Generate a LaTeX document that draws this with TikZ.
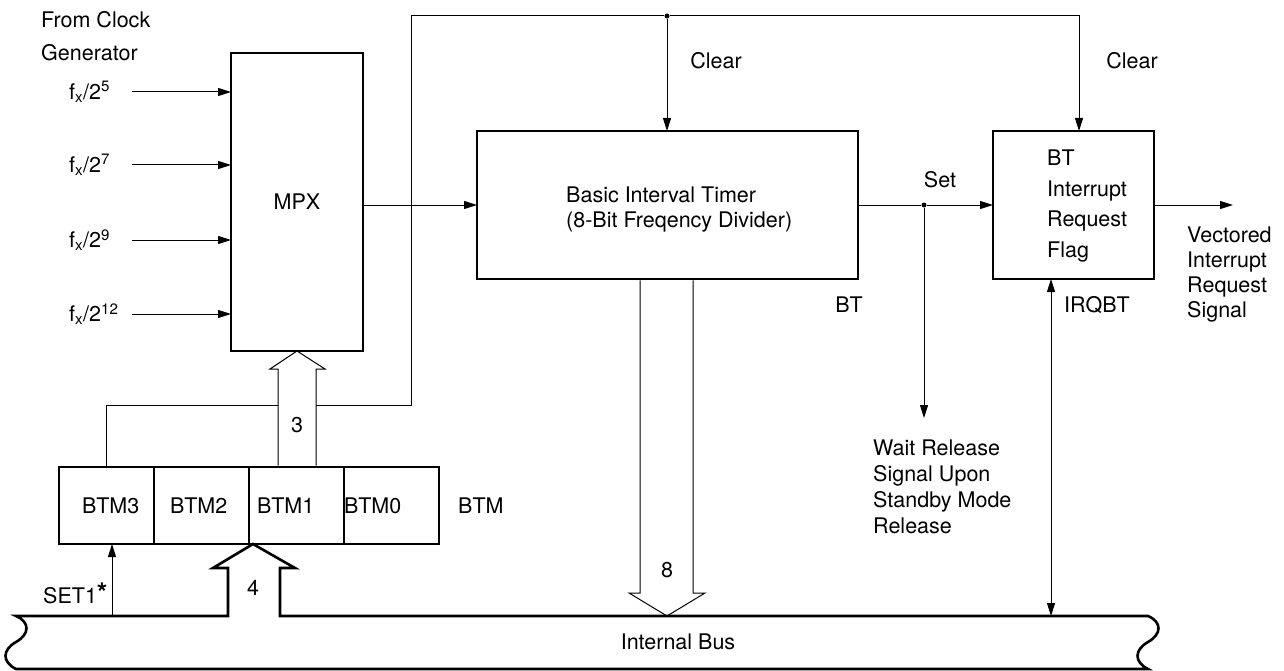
\documentclass[tikz,border=0pt]{standalone}
\usepackage{fontspec}
\usepackage{amsmath}
\setmainfont{TeX Gyre Heros}
\usetikzlibrary{arrows.meta, positioning}

\begin{document}
\begin{tikzpicture}[
  x=1pt, y=-1pt,
  every node/.style={font=\fontsize{21.5}{25}\selectfont},
  blk/.style={rectangle, draw, line width=2.6pt, outer sep=0pt, inner sep=0pt},
  cell/.style={blk, minimum height=77pt, text width=95pt, align=left},
  lbl/.style={inner sep=0pt, align=left},
  arr/.style={-{Triangle[length=13pt, width=8pt]}, line width=1pt},
  dblarr/.style={{Triangle[length=13pt, width=8pt]}-{Triangle[length=13pt, width=8pt]}, line width=1pt},
  wire/.style={line width=1pt},
  busarr/.style={line width=1pt, fill=white, line join=miter},
  bus/.style={line width=2.6pt, line join=miter},
  dot/.style={circle, fill, inner sep=0pt, minimum size=5pt},
]
\useasboundingbox (0,0) rectangle (1284,671);

%% Multiplexer
\node[blk, minimum width=132pt, minimum height=298pt] (mpx) at (297,202) {MPX};

%% Basic interval timer
\node[blk, minimum width=381pt, minimum height=148pt, right=114pt of mpx, yshift=-3pt] (bit) {};
\node[lbl, anchor=west] (bittext) at ([xshift=-101.5pt, yshift=-5pt]bit.center) {Basic Interval Timer\\(8-Bit Freqency Divider)};

%% Interrupt request flag
\node[blk, minimum width=161pt, minimum height=148pt, right=135pt of bit] (flag) {};
\node[lbl, anchor=west, font=\fontsize{21.5}{30.7}\selectfont] (flagtext) at ([xshift=-26.5pt, yshift=-1pt]flag.center) {BT\\Interrupt\\Request\\Flag};

%% Mode register
\node[cell] (btm3) at (106.5,505.5) {\hspace*{23pt}BTM3};
\node[cell, right=0pt of btm3] (btm2) {\hspace*{16pt}BTM2};
\node[cell, right=0pt of btm2] (btm1) {\hspace*{8pt}BTM1};
\node[cell, right=0pt of btm1] (btm0) {BTM0};
\node[lbl, right=19pt of btm0] (btmlbl) {BTM};

%% Clock inputs
\node[lbl, anchor=west, font=\fontsize{21.5}{33}\selectfont] (clock) at (41,36.5) {From Clock\\Generator};
\foreach \e/\y in {5/92, 7/165, 9/240, 12/314}{
  \node[lbl, anchor=west] (f\e) at (69,\y) {f$_\text{x}$/2$^\text{\e}$};
  \coordinate (in\e) at (132,\y);
  \draw[arr] (in\e) -- (in\e -| mpx.west);
}

%% Junctions and free ends
\node[dot] (clrdot) at (667,16) {};
\node[dot] (setdot) at (924,205) {};
\coordinate (fbk) at (411,405);
\coordinate (waitend) at (924,418);
\coordinate (vecend) at (1233,205);
\coordinate (set1) at (112,616);
\coordinate (irq) at (1051,616);

%% Signals
\draw[wire] (btm3.north) |- (fbk) |- (clrdot);
\draw[arr] (clrdot) -| ([xshift=5.5pt]flag.north);
\draw[arr] (clrdot) -- (clrdot |- bit.north);
\draw[arr] (mpx.east |- bit.west) -- (bit.west);
\draw[wire] (bit.east) -- (setdot);
\draw[arr] (setdot) -- (flag.west);
\draw[arr] (setdot) -- (waitend);
\draw[arr] (flag.east) -- (vecend);
\draw[dblarr] (irq |- flag.south) -- (irq);
\draw[arr] (set1) -- (set1 |- btm3.south);

%% Wide arrows
\draw[busarr] (278,465.7) -- (278,369) -- (270,369) -- (mpx.south) -- (325,369) -- (316,369) -- (316,465.7);
\draw[busarr] (640,280.3) -- (640,593) -- (629,593) -- (667,616) -- (705,593) -- (693,593) -- (693,280.3);

%% Internal bus
\draw[bus] (16,616) -- (228,616) -- (228,568) -- (213,568) -- (253,544) -- (295,568) -- (280,568) -- (280,616) -- (1148,616)
  .. controls (1162,622) and (1162,634) .. (1148,642) .. controls (1134,650) and (1134,662) .. (1148,669) -- (16,669)
  .. controls (2,662) and (2,650) .. (16,642) .. controls (30,634) and (30,622) .. (16,616) -- cycle;

%% Labels
\node[lbl] (clear1) at (716,61) {Clear};
\node[lbl] (clear2) at (1132,61) {Clear};
\node[lbl] (setlbl) at (940,180) {Set};
\node[lbl] (btlbl) at (849,305) {BT};
\node[lbl] (irqlbl) at (1097,305) {IRQBT};
\node[lbl, anchor=west] (veclbl) at (1187,275) {Vectored\\Interrupt\\Request\\Signal};
\node[lbl, anchor=west, font=\fontsize{21.5}{26}\selectfont] (waitlbl) at (873,487) {Wait Release\\Signal Upon\\Standby Mode\\Release};
\node[lbl] (three) at (297,425) {3};
\node[lbl] (four) at (253,588) {4};
\node[lbl] (eight) at (667,570) {8};
\node[lbl, anchor=west] (set1lbl) at (43,593) {SET1\raisebox{1pt}{\fontsize{27}{27}\selectfont\textbf{*}}};
\node[lbl] (buslbl) at (678,642) {Internal Bus};

\end{tikzpicture}
\end{document}
